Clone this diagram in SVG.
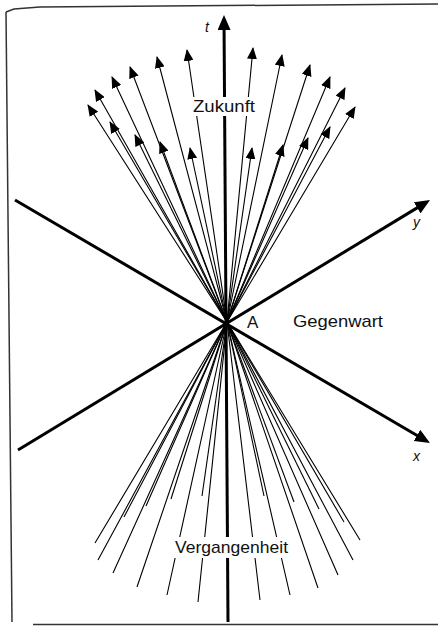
<svg xmlns="http://www.w3.org/2000/svg" width="438" height="626" viewBox="0 0 438 626">
<style>
.fan{fill:none;stroke:#000;stroke-width:1.1;marker-end:url(#ah)}
.axis{fill:none;stroke:#000;stroke-width:3}
.frame{fill:none;stroke:#333;stroke-width:1.5}
.lbl{font-family:"Liberation Sans",Arial,sans-serif;font-size:17px;fill:#111}
.ax{font-family:"Liberation Sans",Arial,sans-serif;font-size:14px;font-style:italic;fill:#111}
.bg{fill:#fff}
</style>
<defs>
<marker id="ah" markerUnits="userSpaceOnUse" markerWidth="12" markerHeight="10" refX="11" refY="5" orient="auto" viewBox="0 0 12 10"><path d="M0,0 L12,5 L0,10 z" fill="#000"/></marker>
<marker id="axh" markerUnits="userSpaceOnUse" markerWidth="15" markerHeight="13" refX="11" refY="6.5" orient="auto" viewBox="0 0 15 13"><path d="M0,0 L15,6.5 L0,13 z" fill="#000"/></marker>
</defs>
<g id="frame">
<path class="frame" d="M6,12 L12,622"/>
<path class="frame" d="M6,12 L14,9 L40,7 L438,4"/>
<path class="frame" d="M33,624.5 L438,624.5" stroke="#888"/>
</g>
<g id="connectors">
<path class="fan" d="M360,540 L227,322 L88,105"/>
<path class="fan" d="M353,560 L227,322 L95,90"/>
<path class="fan" d="M338,575 L227,322 L112,77"/>
<path class="fan" d="M318,588 L227,322 L130,67"/>
<path class="fan" d="M290,595 L227,322 L157,57"/>
<path class="fan" d="M260,600 L227,322 L187,50"/>
<path class="fan" d="M198,602 L227,322 L253,48"/>
<path class="fan" d="M167,595 L227,322 L282,55"/>
<path class="fan" d="M137,587 L227,322 L310,65"/>
<path class="fan" d="M113,573 L227,322 L330,77"/>
<path class="fan" d="M98,560 L227,322 L345,88"/>
<path class="fan" d="M95,543 L227,322 L355,107"/>
<path class="fan" d="M344,522 L227,322 L110,122"/>
<path class="fan" d="M319,509 L227,322 L135,135"/>
<path class="fan" d="M294,502 L227,322 L160,142"/>
<path class="fan" d="M264,496 L227,322 L190,148"/>
<path class="fan" d="M202,496 L227,322 L252,148"/>
<path class="fan" d="M171,499 L227,322 L283,145"/>
<path class="fan" d="M146,506 L227,322 L308,138"/>
<path class="fan" d="M124,517 L227,322 L330,127"/>
</g>
<g id="axes">
<path class="axis" d="M228,622 L224,19" marker-end="url(#axh)"/>
<path class="axis" d="M15,200 L426.5,441" marker-end="url(#axh)"/>
<path class="axis" d="M18,450 L426.6,202.1" marker-end="url(#axh)"/>
</g>
<g id="axis-labels">
<text class="ax" x="205" y="32">t</text>
<text class="ax" x="413" y="227">y</text>
<text class="ax" x="413" y="461">x</text>
</g>
<g id="zukunft">
<rect class="bg" x="190" y="97" width="68" height="19"/>
<text class="lbl" x="193" y="112" textLength="62" lengthAdjust="spacingAndGlyphs">Zukunft</text>
</g>
<g id="vergangenheit">
<rect class="bg" x="172" y="537" width="119" height="21"/>
<text class="lbl" x="175" y="553" textLength="113" lengthAdjust="spacingAndGlyphs">Vergangenheit</text>
</g>
<g id="gegenwart">
<text class="lbl" x="293" y="327" textLength="90" lengthAdjust="spacingAndGlyphs">Gegenwart</text>
</g>
<g id="A">
<text class="lbl" x="247" y="328">A</text>
</g>
</svg>
